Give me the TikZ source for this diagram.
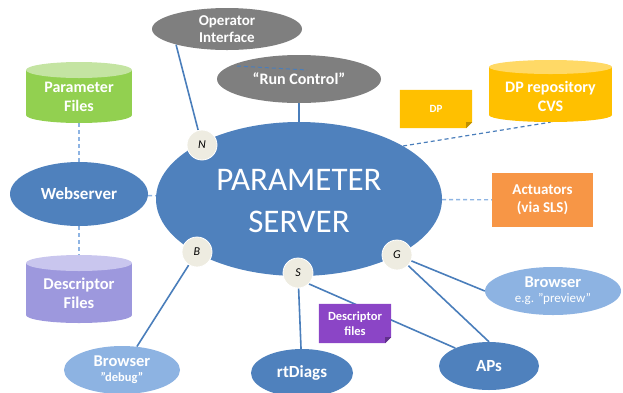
\documentclass[tikz,border=0pt]{standalone}
\usepackage{fontspec}
\setmainfont{Carlito}
\usetikzlibrary{shapes.geometric}
\definecolor{srv}{HTML}{4F81BD}
\definecolor{lblue}{HTML}{8DB3E2}
\definecolor{gry}{HTML}{7F7F7F}
\definecolor{beige}{HTML}{EEECE1}
\definecolor{grn}{HTML}{92D050}
\definecolor{grntop}{HTML}{C4E4A2}
\definecolor{lav}{HTML}{9D98DD}
\definecolor{lavtop}{HTML}{C9C6EE}
\definecolor{ylw}{HTML}{FFC000}
\definecolor{ylwtop}{HTML}{FFD966}
\definecolor{org}{HTML}{F79646}
\definecolor{purp}{HTML}{8B45C6}
\definecolor{lineblue}{HTML}{4A7EBB}
\definecolor{dashblue}{HTML}{8EB4E3}
\pgfdeclarelayer{bg}
\pgfdeclarelayer{mid}
\pgfsetlayers{bg,mid,main}
\begin{document}
\begin{tikzpicture}[x=1pt,y=-1pt,
  ell/.style={ellipse, inner sep=0pt, draw=none},
  lab/.style={text=white, align=center, inner sep=0pt},
  bf/.style={font=\bfseries\fontsize{#1}{#1}\selectfont},
  circ/.style={circle, fill=beige, draw=white, line width=0.8pt, minimum size=30pt, inner sep=0pt, text=black, font=\itshape\fontsize{12}{12}\selectfont},
  box/.style={rectangle, inner sep=0pt, draw=none},
  conn/.style={line width=1.6pt, draw=lineblue},
  dconn/.style={line width=1.4pt, draw=dashblue, dash pattern=on 4pt off 3pt},
  ddark/.style={line width=1.2pt, draw=lineblue, dash pattern=on 4pt off 3pt}]
\useasboundingbox (0,0) rectangle (623,392);

% ellipses
\node[ell, fill=gry, minimum width=150, minimum height=42,
  label={[lab, bf=15, font=\bfseries\fontsize{15}{17}\selectfont]center:Operator\\Interface}] (op) at (227,29) {};
\node[ell, fill=gry, minimum width=164, minimum height=48,
  label={[lab, font=\bfseries\fontsize{16}{18}\selectfont]center:“Run Control”}] (rc) at (299,79) {};
\node[ell, fill=srv, minimum width=286, minimum height=154,
  label={[lab, font=\fontsize{33}{42}\selectfont, yshift=-2pt]center:PARAMETER\\SERVER}] (ps) at (299,199) {};
\node[ell, fill=srv, minimum width=138, minimum height=64,
  label={[lab, font=\bfseries\fontsize{17}{19}\selectfont]center:Webserver}] (ws) at (79,194) {};
\node[ell, fill=lblue, minimum width=116, minimum height=48,
  label={[lab, font=\bfseries\fontsize{16.5}{15}\selectfont]center:Browser\\{\fontsize{12.5}{14}\selectfont"debug"}}] (bd) at (122,370) {};
\node[ell, fill=lblue, minimum width=136, minimum height=48,
  label={[lab, font=\bfseries\fontsize{16.5}{15}\selectfont]center:Browser\\{\mdseries\fontsize{13}{14}\selectfont e.g. "preview"}}] (bp) at (553,291) {};
\node[ell, fill=srv, minimum width=102, minimum height=48,
  label={[lab, font=\bfseries\fontsize{17}{19}\selectfont]center:rtDiags}] (rt) at (302,373) {};
\node[ell, fill=srv, minimum width=100, minimum height=48,
  label={[lab, font=\bfseries\fontsize{17}{19}\selectfont]center:APs}] (aps) at (489,366) {};

% actuators
\node[box, fill=org, minimum width=101, minimum height=54,
  label={[lab, font=\bfseries\fontsize{15}{18}\selectfont]center:Actuators\\(via SLS)}] (act) at (542.5,200) {};

% circles
\node[circ] (n) at (202,145) {N};
\node[circ] (b) at (197,252) {B};
\node[circ] (s) at (298,273) {S};
\node[circ] (g) at (397,255) {G};

% cylinders (named boxes spanning the shape)
\node[box, minimum width=106, minimum height=61,
  label={[lab, font=\bfseries\fontsize{16}{19}\selectfont, yshift=-4pt]center:Parameter\\Files}] (pf) at (79,92.5) {};
\node[box, minimum width=106, minimum height=68,
  label={[lab, font=\bfseries\fontsize{16.5}{19}\selectfont, yshift=-4pt]center:Descriptor\\Files}] (df) at (79,289) {};
\node[box, minimum width=123, minimum height=62,
  label={[lab, font=\bfseries\fontsize{16}{19}\selectfont, yshift=-5pt]center:DP repository\\CVS}] (dprepo) at (550.5,91) {};

% notes
\node[box, minimum width=72, minimum height=38,
  label={[lab, font=\bfseries\fontsize{11}{13}\selectfont]center:DP}] (dp) at (436,109) {};
\node[box, minimum width=72, minimum height=39,
  label={[lab, font=\bfseries\fontsize{12.5}{15}\selectfont]center:Descriptor\\files}] (dfn) at (355,323.5) {};

\begin{pgfonlayer}{mid}
  % parameter files cylinder
  \fill[grn] (26,70) rectangle (132,115);
  \fill[grn] (79,115) ellipse [x radius=53, y radius=8];
  \fill[grntop] (79,70) ellipse [x radius=53, y radius=8];
  % descriptor files cylinder
  \fill[lav] (26,263) rectangle (132,315);
  \fill[lav] (79,315) ellipse [x radius=53, y radius=8];
  \fill[lavtop] (79,263) ellipse [x radius=53, y radius=8];
  % DP repository cylinder
  \fill[ylw] (489,67) rectangle (612,115);
  \fill[ylw] (550.5,115) ellipse [x radius=61.5, y radius=7];
  \fill[ylwtop] (550.5,67) ellipse [x radius=61.5, y radius=7];
  % DP note
  \fill[ylw] (dp.north west) -- (dp.north east) -- ([yshift=6pt]dp.south east)
     -- ([xshift=-6pt]dp.south east) -- (dp.south west) -- cycle;
  \fill[ylw!75!black] ([yshift=6pt]dp.south east) -- ([xshift=-6pt,yshift=6pt]dp.south east) -- ([xshift=-6pt]dp.south east) -- cycle;
  % descriptor files note
  \fill[purp] (dfn.north west) -- (dfn.north east) -- ([yshift=6pt]dfn.south east)
     -- ([xshift=-6pt]dfn.south east) -- (dfn.south west) -- cycle;
  \fill[purp!70!black] ([yshift=6pt]dfn.south east) -- ([xshift=-6pt,yshift=6pt]dfn.south east) -- ([xshift=-6pt]dfn.south east) -- cycle;
\end{pgfonlayer}

% connectors
\begin{pgfonlayer}{bg}
  \draw[conn] (op.197) -- (n);
  \draw[conn] (rc) -- (ps);
  \draw[conn] (b) -- (bd);
  \draw[conn] (s) -- (rt);
  \draw[conn] (s.-45) -- (aps.152);
  \draw[conn] (g) -- (bp.west);
  \draw[conn] (g) -- (aps.north);
  \draw[dconn] (pf.south) -- (ws.north);
  \draw[dconn] (ws.south) -- (df.north);
  \draw[dconn] (ws) -- (ps);
  \draw[dconn] (ps) -- (act);
  \draw[ddark] (ps.27) -- (dprepo.south);
\end{pgfonlayer}

% stray dashed mark inside Run Control
\coordinate (rcd1) at (237,66);
\coordinate (rcd2) at (307,70);
\draw[ddark, line width=1pt] (rcd1) -- (rcd2);
\end{tikzpicture}
\end{document}
